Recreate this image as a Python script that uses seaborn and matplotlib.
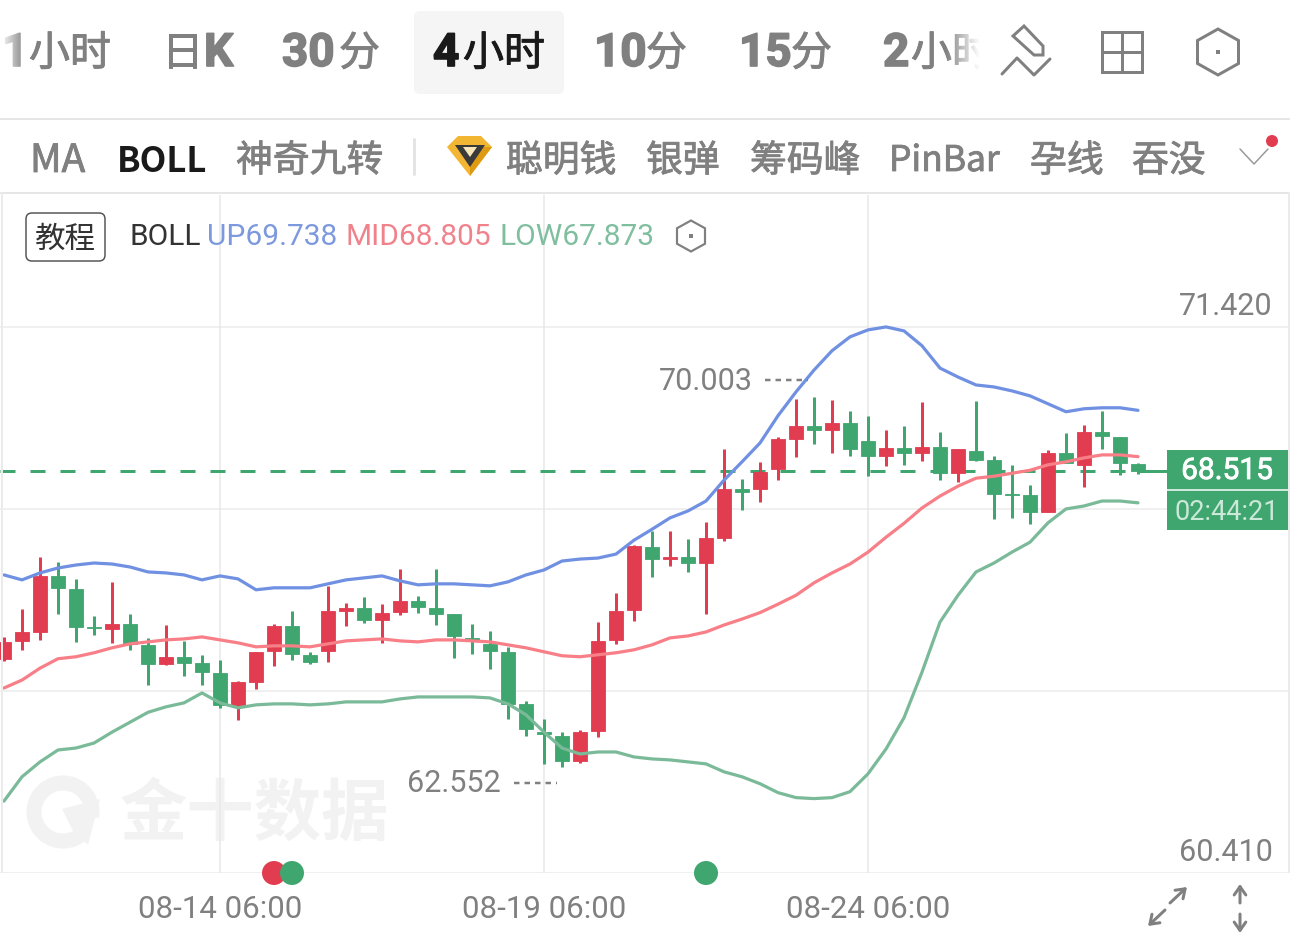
import numpy as np
import pandas as pd
import matplotlib
matplotlib.use("Agg")
import matplotlib.pyplot as plt
from matplotlib import patheffects
from matplotlib.patches import Circle, FancyBboxPatch, Polygon, Rectangle, Arc
import seaborn as sns

# candle values, oldest first
opens = [64.73, 65.09, 65.27, 66.40, 66.14, 65.36, 65.32, 65.44, 65.01, 64.62, 64.77, 64.65, 64.44, 63.80, 64.26, 64.89,
	65.38, 64.81, 64.89, 65.70, 65.76, 65.52, 65.68, 65.90, 65.76, 65.64, 65.15, 65.03, 64.87, 63.82, 63.25, 63.17,
	62.67, 63.27, 65.11, 65.72, 66.98, 66.74, 66.78, 66.66, 67.16, 68.15, 68.15, 68.55, 69.16, 69.42, 69.34, 69.48,
	69.12, 68.82, 68.98, 68.88, 69.00, 68.47, 68.92, 68.74, 68.05, 68.03, 67.69, 68.88, 68.64, 69.30, 69.20, 68.66]
closes = [65.07, 65.27, 66.40, 66.16, 65.36, 65.34, 65.44, 65.03, 64.62, 64.77, 64.65, 64.46, 63.80, 64.26, 64.87, 65.38,
	64.83, 64.67, 65.70, 65.76, 65.52, 65.66, 65.90, 65.78, 65.64, 65.19, 65.11, 64.89, 63.82, 63.31, 63.21, 62.67,
	63.25, 65.09, 65.70, 67.00, 66.74, 66.78, 66.66, 67.16, 68.15, 68.09, 68.49, 69.16, 69.42, 69.34, 69.48, 68.96,
	68.82, 68.98, 68.88, 69.00, 68.47, 68.96, 68.74, 68.05, 68.03, 67.69, 68.88, 68.68, 69.30, 69.22, 68.68, 68.515]
highs = [65.17, 65.74, 66.78, 66.68, 66.34, 65.60, 66.28, 65.64, 65.15, 65.42, 65.09, 64.81, 64.71, 64.28, 64.87, 65.44,
	65.70, 64.87, 66.20, 65.85, 65.98, 65.83, 66.54, 66.00, 66.54, 65.64, 65.44, 65.29, 64.97, 63.88, 63.52, 63.25,
	63.29, 65.47, 66.05, 67.02, 67.30, 67.30, 67.14, 67.49, 68.96, 68.35, 68.70, 69.20, 69.97, 70.003, 69.95, 69.73,
	69.63, 69.34, 69.42, 69.91, 69.30, 68.96, 69.93, 68.82, 68.64, 68.23, 68.94, 69.28, 69.44, 69.73, 69.20, 68.68]
lows = [64.69, 64.91, 65.11, 65.64, 65.07, 65.21, 65.05, 64.91, 64.20, 64.60, 64.38, 64.20, 63.74, 63.50, 64.12, 64.59,
	64.71, 64.62, 64.67, 65.38, 65.46, 65.05, 65.62, 65.66, 65.42, 64.75, 64.83, 64.53, 63.52, 63.17, 62.61, 62.552,
	62.63, 63.15, 65.03, 65.49, 66.38, 66.60, 66.48, 65.64, 67.10, 67.73, 67.89, 68.33, 68.80, 69.06, 68.88, 68.82,
	68.41, 68.62, 68.64, 68.72, 68.33, 68.29, 68.72, 67.55, 67.57, 67.45, 67.69, 68.68, 68.19, 68.96, 68.43, 68.46]

# bollinger bands
boll_up = [66.42, 66.32, 66.46, 66.56, 66.62, 66.66, 66.64, 66.58, 66.48, 66.46, 66.42, 66.32, 66.40, 66.34, 66.12, 66.16,
	66.16, 66.16, 66.24, 66.32, 66.36, 66.40, 66.30, 66.22, 66.24, 66.24, 66.22, 66.20, 66.28, 66.42, 66.52, 66.70,
	66.74, 66.76, 66.84, 67.12, 67.34, 67.57, 67.71, 67.91, 68.33, 68.70, 69.08, 69.63, 70.11, 70.55, 70.94, 71.22,
	71.36, 71.42, 71.34, 71.04, 70.59, 70.41, 70.25, 70.21, 70.13, 70.03, 69.87, 69.71, 69.77, 69.79, 69.79, 69.738]
boll_mid = [64.14, 64.30, 64.54, 64.73, 64.77, 64.85, 64.95, 65.03, 65.07, 65.11, 65.13, 65.17, 65.11, 65.05, 64.97, 64.99,
	64.99, 64.97, 65.03, 65.09, 65.11, 65.13, 65.09, 65.07, 65.11, 65.11, 65.09, 65.07, 65.01, 64.95, 64.87, 64.79,
	64.77, 64.81, 64.85, 64.91, 65.01, 65.15, 65.19, 65.27, 65.41, 65.53, 65.66, 65.83, 66.01, 66.26, 66.46, 66.64,
	66.88, 67.18, 67.46, 67.77, 68.01, 68.21, 68.37, 68.41, 68.47, 68.53, 68.64, 68.70, 68.78, 68.84, 68.84, 68.805]
boll_low = [61.86, 62.35, 62.65, 62.89, 62.93, 63.03, 63.25, 63.45, 63.65, 63.76, 63.84, 64.04, 63.84, 63.74, 63.80, 63.82,
	63.82, 63.80, 63.82, 63.86, 63.86, 63.86, 63.92, 63.96, 63.96, 63.96, 63.96, 63.94, 63.82, 63.60, 63.25, 62.93,
	62.81, 62.85, 62.85, 62.75, 62.71, 62.69, 62.65, 62.61, 62.45, 62.35, 62.21, 62.03, 61.93, 61.91, 61.93, 62.05,
	62.41, 62.91, 63.54, 64.46, 65.47, 66.01, 66.48, 66.66, 66.88, 67.08, 67.47, 67.75, 67.81, 67.91, 67.91, 67.873]

date_ticks = [12, 30, 48]
date_labels = ["08-14 06:00", "08-19 06:00", "08-24 06:00"]
price_grid = [71.42, 67.75, 64.08, 60.41]
signal_candles = [15, 16, 39]
signal_kinds = ["up", "down", "down"]
countdown = "02:44:21"

RED = "#E23C50"
GREEN = "#3FA66F"
GRAY = "#808080"
NUM = ["Roboto", "DejaVu Sans"]
CJK = ["Noto Sans CJK SC", "DejaVu Sans"]
PT = 0.72  # one pixel in points at dpi 100

sns.set_theme(style="white")
plt.rcParams["font.family"] = CJK

df = pd.DataFrame({
	"i": np.arange(len(closes)),
	"open": opens,
	"high": highs,
	"low": lows,
	"close": closes,
	"up": boll_up,
	"mid": boll_mid,
	"boll_low": boll_low,
})
df["top"] = df[["open", "close"]].max(axis=1)
df["bottom"] = df[["open", "close"]].min(axis=1)
df["color"] = np.where(df["close"] > df["open"], RED, GREEN)

fig = plt.figure(figsize=(12.9, 9.45), dpi=100, facecolor="white")

# layer under the chart (watermark) and over it (app chrome), both in pixels
def pixel_layer(zorder):
	layer = fig.add_axes([0, 0, 1, 1], zorder=zorder)
	layer.set_xlim(0, 1290)
	layer.set_ylim(945, 0)
	layer.axis("off")
	return layer

def heavier(text, width, color):
	text.set_path_effects([patheffects.withStroke(linewidth=width, foreground=color)])
	return text

under = pixel_layer(0)
top = pixel_layer(2)

# CHART
ax = fig.add_axes([0, 71 / 945, 1, 678 / 945], zorder=1)
ax.patch.set_alpha(0)
ax.set_xlim(-0.222, 71.444)
ax.set_ylim(60.41, 74.08)
sns.despine(ax=ax, left=True, bottom=True, right=True, top=True)

ax.hlines(price_grid, -1, 72, color="#F0F0F0", lw=2 * PT, zorder=1)
ax.vlines(date_ticks, 60.41, 74.08, color="#E8E8E8", lw=1.5 * PT, zorder=1)

# last price dashes run behind the candles, then solid after the last one
last = closes[-1]
ax.plot([-0.2, 63], [last, last], color=GREEN, lw=3 * PT, dashes=(15 / 3, 15 / 3), zorder=2)
ax.plot([63, 65], [last, last], color=GREEN, lw=3 * PT, zorder=2)

ax.vlines(df["i"], df["low"], df["high"], colors=df["color"], lw=3 * PT, zorder=3)
ax.bar(df["i"], df["top"] - df["bottom"], bottom=df["bottom"], width=0.82,
	color=df["color"], edgecolor=df["color"], linewidth=0.6, zorder=3)

sns.lineplot(data=df, x="i", y="up", color="#7090E2", lw=3.2 * PT, ax=ax, zorder=4)
sns.lineplot(data=df, x="i", y="mid", color="#F87F87", lw=3.2 * PT, ax=ax, zorder=4)
sns.lineplot(data=df, x="i", y="boll_low", color="#7ABA99", lw=3.2 * PT, ax=ax, zorder=4)

ax.set_xlabel("")
ax.set_ylabel("")
ax.set_yticks([])
ax.set_xticks(date_ticks, date_labels, family=NUM, fontsize=22.5, color=GRAY)
ax.tick_params(axis="x", length=0, pad=15 * PT + 4)

# signal dots sit on the bottom edge
signals = pd.DataFrame({"i": signal_candles, "kind": signal_kinds,
	"price": [price_grid[-1]] * len(signal_candles)})
sns.scatterplot(data=signals, x="i", y="price", hue="kind", palette={"up": RED, "down": GREEN},
	s=(24 * PT) ** 2, linewidth=0, legend=False, clip_on=False, ax=ax, zorder=5)
ax.set_xlabel("")
ax.set_ylabel("")

# price labels on the right
for value in [price_grid[0], price_grid[-1]]:
	ax.annotate(f"{value:.3f}", xy=(1, value), xycoords=("axes fraction", "data"),
		xytext=(-17 * PT, 21 * PT), textcoords="offset points", ha="right", va="center",
		family=NUM, fontsize=22, color=GRAY)

# high / low markers
top.text(753, 381, f"{df['high'].max():.3f}", ha="right", va="center", family=NUM, fontsize=22, color=GRAY)
top.plot([765, 808], [381, 381], color=GRAY, lw=2.5 * PT, dashes=(2.2, 2))
top.text(501, 784, f"{df['low'].min():.3f}", ha="right", va="center", family=NUM, fontsize=22, color=GRAY)
top.plot([514, 557], [784, 784], color=GRAY, lw=2.5 * PT, dashes=(2.2, 2))

# current price box
top.add_patch(Rectangle((1167, 451), 121, 80, color=GREEN, lw=0))
top.plot([1167, 1288], [491, 491], color="white", lw=1.5 * PT)
heavier(top.text(1227, 472, f"{last:.3f}", ha="center", va="center", family=NUM, fontsize=21.5, color="white"), 0.6, "white")
top.text(1227, 512, countdown, ha="center", va="center", family=NUM, fontsize=19.5, color="#CBE8D9")

# WATERMARK
mark = "#F2F2F2"
under.add_patch(Arc((63, 813), 58, 58, theta1=50, theta2=370, color=mark, lw=15 * PT))
under.add_patch(Polygon([(62, 810), (100, 800), (88, 846), (72, 830)], color=mark, lw=0))
under.text(120, 815, "金十数据", ha="left", va="center", fontsize=48.5, weight="bold", color=mark)

# BORDERS
for y in [120, 194]:
	top.plot([0, 1290], [y, y], color="#E6E6E6", lw=2 * PT)
top.plot([1.5, 1.5], [194, 873], color="#EBEBEB", lw=2 * PT)
top.plot([1288.5, 1288.5], [194, 873], color="#EBEBEB", lw=2 * PT)

# PERIOD TABS
top.add_patch(FancyBboxPatch((418, 16), 142, 75, boxstyle="round,pad=4,rounding_size=6", color="#F5F5F5", lw=0))

def tab(x, digits, cjk, cjk_x, color=GRAY):
	if digits:
		heavier(top.text(x, 54, digits, ha="left", va="center", family=NUM,
			fontsize=33, weight="bold", color=color), 1.2, color)
	heavier(top.text(cjk_x, 55, cjk, ha="left", va="center", fontsize=29.5, color=color), 0.7, color)

tab(2, "1", "小时", 29)
tab(0, "", "日", 162)
heavier(top.text(204, 54, "K", ha="left", va="center", family=NUM, fontsize=33, weight="bold", color=GRAY), 1.2, GRAY)
tab(282, "30", "分", 339)
tab(433, "4", "小时", 463, color="#1A1A1A")
tab(594, "10", "分", 646)
tab(739, "15", "分", 791)
tab(883, "2", "小时", 911)

# tab row fades out at both ends
fade = np.ones((2, 40, 4))
fade[..., 3] = np.linspace(0, 1, 40)
top.imshow(fade, extent=(945, 980, 100, 5), aspect="auto", zorder=3)
top.imshow(fade[:, ::-1], extent=(0, 26, 100, 5), aspect="auto", zorder=3)
top.add_patch(Rectangle((980, 5), 20, 95, color="white", lw=0, zorder=3))
top.set_xlim(0, 1290)
top.set_ylim(945, 0)

# toolbar icons
icon = dict(color=GRAY, lw=3 * PT)
top.add_patch(Polygon([(1024, 27), (1013, 37), (1034, 56), (1043, 56), (1043, 47)], fill=False, ec=GRAY, lw=3 * PT, zorder=4))
top.plot([1002, 1017, 1034, 1050], [75, 59, 76, 60], **icon)
top.add_patch(Rectangle((1102, 33), 40, 40, fill=False, ec=GRAY, lw=3 * PT))
top.plot([1122, 1122], [33, 73], **icon)
top.plot([1102, 1142], [53, 53], **icon)

def hexagon(x, y, w, h, lw):
	top.add_patch(Polygon([(x, y - h), (x + w, y - h / 2), (x + w, y + h / 2), (x, y + h), (x - w, y + h / 2), (x - w, y - h / 2)],
		fill=False, ec=GRAY, lw=lw * PT))
	top.add_patch(Rectangle((x - 2, y - 2), 4, 4, color=GRAY, lw=0))

hexagon(1218, 53, 20.5, 23, 3)
hexagon(691, 237, 14, 15.5, 2.2)

# INDICATOR ROW
def item(x, label, color=GRAY, weight="normal", size=26.5):
	t = top.text(x, 162, label, ha="left", va="center", fontsize=size, color=color, weight=weight)
	if weight == "normal":
		heavier(t, 0.6, color)

item(30, "MA", size=28)
item(117, "BOLL", color="#1A1A1A", weight="bold", size=25)
item(236, "神奇九转")
top.plot([414, 414], [140, 175], color="#E4E4E4", lw=3 * PT)
top.add_patch(Polygon([(447, 148), (458, 137), (481, 137), (492, 148), (470, 177)], color="#F2B632", lw=0))
top.add_patch(Polygon([(470, 177), (492, 148), (482, 148), (470, 164)], color="#DD9A12", lw=0))
top.add_patch(Polygon([(455, 146), (485, 146), (470, 168)], color="#3A3A3A", lw=0))
top.add_patch(Polygon([(463, 148), (477, 148), (470, 158)], color="#F6E6B8", lw=0))
item(506, "聪明钱")
item(646, "银弹")
item(750, "筹码峰")
item(889, "PinBar", size=25.5)
item(1030, "孕线")
item(1132, "吞没")
top.plot([1240, 1254, 1268], [150, 165, 150], color="#999999", lw=1.5 * PT)
top.add_patch(Circle((1272, 142), 6, color=RED, lw=0))

# BOLL LEGEND
top.add_patch(FancyBboxPatch((29, 217), 73, 42, boxstyle="round,pad=3,rounding_size=6", fc="white", ec="#555555", lw=1.5 * PT))
top.text(65, 239, "教程", ha="center", va="center", fontsize=22, color="#333333")
legend_font = dict(ha="left", va="center", family=NUM, fontsize=21.5)
top.text(129, 237, "BOLL", color="#333333", **legend_font)
top.text(207, 237, f"UP{boll_up[-1]:.3f}", color="#7D99DE", **legend_font)
top.text(346, 237, f"MID{boll_mid[-1]:.3f}", color="#F0828C", **legend_font)
top.text(499, 237, f"LOW{boll_low[-1]:.3f}", color="#7FBE9E", **legend_font)

# bottom right buttons
arrow = dict(arrowstyle="->,head_length=0.5,head_width=0.35", color=GRAY, lw=3 * PT, shrinkA=0, shrinkB=0)
top.annotate("", xy=(1187, 888), xytext=(1170, 904), arrowprops=arrow)
top.annotate("", xy=(1148, 927), xytext=(1165, 911), arrowprops=arrow)
top.annotate("", xy=(1240, 885), xytext=(1240, 904), arrowprops=arrow)
top.annotate("", xy=(1240, 934), xytext=(1240, 915), arrowprops=arrow)

fig.savefig("out.png", dpi=100, facecolor="white")
